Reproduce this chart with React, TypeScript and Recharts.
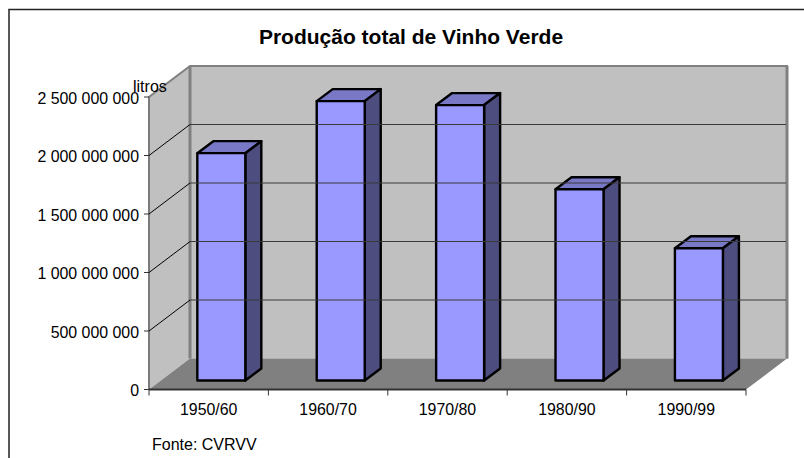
import React from "react";
import { BarChart, Bar, XAxis, YAxis, ReferenceArea, ReferenceLine } from "recharts";

const categories = ["1950/60", "1960/70", "1970/80", "1980/90", "1990/99"];
const production = [1943000000, 2388000000, 2354000000, 1635000000, 1130000000];
const yTicks = [0, 500000000, 1000000000, 1500000000, 2000000000, 2500000000];
const gridValues = [500000000, 1000000000, 1500000000, 2000000000];
const titleText = "Produção total de Vinho Verde";
const unitText = "litros";
const sourceText = "Fonte: CVRVV";

const data = categories.map((period, i) => ({ period, value: production[i] }));

const W = 804;
const H = 458;
const FONT = "'Liberation Sans', Arial, sans-serif";
const LEFT = 149;
const RIGHT = 746;
const TOP = 97;
const BOTTOM = 389.5;
const WALL_DX = 41;
const WALL_DY = 31;
const BAR_SHIFT_X = 12.5;
const BAR_SHIFT_Y = 9;
const DEPTH_X = 16;
const DEPTH_Y = 12;
const SLOT = (RIGHT - LEFT) / categories.length;

const fmt = (v: number) => String(v).replace(/\B(?=(\d{3})+(?!\d))/g, " ");

function Walls(props: any) {
  const { x, y, width, height } = props;
  const l = x, r = x + width, t = y, b = y + height;
  const bl = l + WALL_DX, br = r + WALL_DX, bt = t - WALL_DY, bb = b - WALL_DY;
  return (
    <g>
      <polygon points={`${bl},${bt} ${br},${bt} ${br},${bb} ${bl},${bb}`} fill="#c0c0c0" />
      <polygon points={`${l},${t} ${bl},${bt} ${bl},${bb} ${l},${b}`} fill="#c0c0c0" />
      <polygon points={`${l},${b} ${bl},${bb} ${br},${bb} ${r},${b}`} fill="#808080" />
      <path d={`M${l},${b} L${l},${t} L${bl},${bt} L${br},${bt} L${br},${bb}`} fill="none" stroke="#808080" strokeWidth={2} />
      <path d={`M${bl},${bt} L${bl},${bb}`} fill="none" stroke="#808080" strokeWidth={3} />
      <path d={`M${br},${bt} L${br},${bb}`} fill="none" stroke="#808080" strokeWidth={3} />
      <path d={`M${l},${t} L${l},${b}`} fill="none" stroke="#777" strokeWidth={1} />
      <text x={133} y={92} fontFamily={FONT} fontSize={16} fill="#000">
        {unitText}
      </text>
    </g>
  );
}

function GridShape(props: any) {
  const y = props.y1 ?? props.y;
  return (
    <g>
      <path d={`M${LEFT},${y} L${LEFT + WALL_DX},${y - WALL_DY}`} fill="none" stroke="#000" strokeWidth={1} />
      <path d={`M${LEFT + WALL_DX},${y - WALL_DY} L${RIGHT + WALL_DX - 1},${y - WALL_DY}`} fill="none" stroke="#3a3a3a" strokeWidth={1} />
    </g>
  );
}

function Box3D(props: any) {
  const { x, y, width, height } = props;
  const l = x + BAR_SHIFT_X, r = l + width, t = y - BAR_SHIFT_Y, b = t + height;
  const dx = DEPTH_X, dy = DEPTH_Y;
  return (
    <g stroke="#000" strokeWidth={2.4} strokeLinejoin="round">
      <polygon points={`${l},${t} ${l + dx},${t - dy} ${r + dx},${t - dy} ${r},${t}`} fill="#7878c6" />
      <polygon points={`${r},${t} ${r + dx},${t - dy} ${r + dx},${b - dy} ${r},${b}`} fill="#4d4d80" />
      <rect x={l} y={t} width={width} height={height} fill="#9999ff" />
    </g>
  );
}

function CategoryTick(props: any) {
  const { x, payload, index } = props;
  const last = index === categories.length - 1;
  const half = SLOT / 2;
  return (
    <g>
      <path d={`M${x - half},${BOTTOM} v6`} stroke="#333" strokeWidth={1} fill="none" />
      {last && <path d={`M${x + half},${BOTTOM} v6`} stroke="#333" strokeWidth={1} fill="none" />}
      <text x={x} y={BOTTOM + 25} textAnchor="middle" fontFamily={FONT} fontSize={15.9} fill="#000">
        {payload.value}
      </text>
    </g>
  );
}

export default function App() {
  return (
    <div style={{ position: "absolute", left: 0, top: 0, width: W, height: H, background: "#fff" }}>
      <BarChart
        width={W}
        height={H}
        data={data}
        margin={{ top: TOP, right: W - RIGHT, bottom: 38.5, left: 0 }}
        barCategoryGap="30%"
      >
        <XAxis
          dataKey="period"
          height={30}
          interval={0}
          axisLine={{ stroke: "#333", strokeWidth: 2 }}
          tickLine={false}
          tick={<CategoryTick />}
        />
        <YAxis
          width={LEFT}
          domain={[0, 2500000000]}
          ticks={yTicks}
          tickFormatter={fmt}
          axisLine={false}
          tickSize={5}
          tickMargin={5}
          tickLine={{ stroke: "#333", strokeWidth: 1 }}
          tick={{ fontFamily: FONT, fontSize: 15.9, fill: "#000", dy: 1 }}
        />
        <ReferenceArea y1={0} y2={2500000000} shape={<Walls />} ifOverflow="visible" />
        {gridValues.map((v) => (
          <ReferenceLine key={v} y={v} shape={<GridShape />} ifOverflow="visible" />
        ))}
        <Bar dataKey="value" isAnimationActive={false} shape={<Box3D />} />
        <path d={`M9,${H} L9,9.5 L${W},9.5`} fill="none" stroke="#222" strokeWidth={1.5} />
        <text x={411} y={44} textAnchor="middle" fontFamily={FONT} fontWeight="bold" fontSize={21} fill="#000">
          {titleText}
        </text>
        <text x={152} y={450} fontFamily={FONT} fontSize={16} fill="#000">
          {sourceText}
        </text>
      </BarChart>
    </div>
  );
}
